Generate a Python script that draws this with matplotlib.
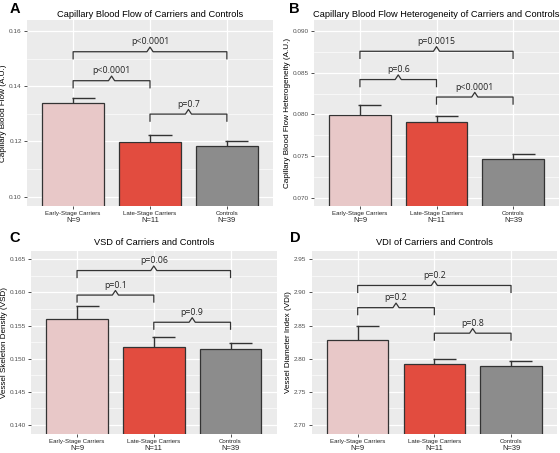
import matplotlib
matplotlib.use("Agg")
import matplotlib.pyplot as plt
import numpy as np

# groups shared by all four panels
groups = ["Early-Stage Carriers", "Late-Stage Carriers", "Controls"]
group_n = [9, 11, 39]
bar_colors = ["#E8C8C8", "#E24C3F", "#8C8C8C"]

# panel A: capillary blood flow
flow_mean = [0.1340, 0.1198, 0.1185]
flow_se = [0.0019, 0.0025, 0.0018]
flow_pairs = [(0, 2), (0, 1), (1, 2)]
flow_bracket_y = [0.1525, 0.1420, 0.1299]
flow_p = ["p<0.0001", "p<0.0001", "p=0.7"]
flow_ticks = [0.10, 0.12, 0.14, 0.16]

# panel B: capillary blood flow heterogeneity
het_mean = [0.0799, 0.0791, 0.0746]
het_se = [0.0013, 0.0007, 0.0007]
het_pairs = [(0, 2), (0, 1), (1, 2)]
het_bracket_y = [0.0876, 0.0842, 0.0821]
het_p = ["p=0.0015", "p=0.6", "p<0.0001"]
het_ticks = [0.070, 0.075, 0.080, 0.085, 0.090]

# panel C: vessel skeleton density
vsd_mean = [0.1560, 0.1518, 0.1515]
vsd_se = [0.0020, 0.0015, 0.0008]
vsd_pairs = [(0, 2), (0, 1), (1, 2)]
vsd_bracket_y = [0.1633, 0.1596, 0.1555]
vsd_p = ["p=0.06", "p=0.1", "p=0.9"]
vsd_ticks = [0.140, 0.145, 0.150, 0.155, 0.160, 0.165]

# panel D: vessel diameter index
vdi_mean = [2.828, 2.7915, 2.789]
vdi_se = [0.021, 0.0075, 0.007]
vdi_pairs = [(0, 2), (0, 1), (1, 2)]
vdi_bracket_y = [2.9105, 2.877, 2.8385]
vdi_p = ["p=0.2", "p=0.2", "p=0.8"]
vdi_ticks = [2.70, 2.75, 2.80, 2.85, 2.90, 2.95]

W, H = 560, 453
fig = plt.figure(figsize=(W / 100, H / 100), dpi=100)
plt.rcParams["font.family"] = ["Liberation Sans", "DejaVu Sans"]


def px_axes(x0, y0, x1, y1):
    return fig.add_axes([x0 / W, 1 - y1 / H, (x1 - x0) / W, (y1 - y0) / H])


def draw_panel(ax, means, ses, pairs, br_y, plabels, ticks, fmt, ylim,
               title, ylabel, title_pad):
    ax.set_facecolor("#EBEBEB")
    for s in ax.spines.values():
        s.set_visible(False)
    x = np.arange(len(groups))
    ax.set_xlim(-0.6, 2.6)
    ax.set_ylim(*ylim)
    # grid
    step = ticks[1] - ticks[0]
    minors = [t + step / 2 for t in [ticks[0] - step] + ticks]
    for m in minors:
        ax.axhline(m, color="white", lw=0.45, zorder=0)
    for t in ticks:
        ax.axhline(t, color="white", lw=0.9, zorder=0)
    for xi in x:
        ax.axvline(xi, color="white", lw=0.9, zorder=0)
    # error bars (upper only, cap offset to the right like the source)
    for xi, m, se in zip(x, means, ses):
        ax.plot([xi, xi], [m, m + se], color="#333333", lw=1.0, zorder=1)
        ax.plot([xi - 0.02, xi + 0.28], [m + se, m + se], color="#333333",
                lw=1.0, zorder=1, solid_capstyle="butt")
    ax.bar(x, means, width=0.8, color=bar_colors, edgecolor="#333333",
           linewidth=0.9, zorder=2)
    # brackets
    span = ylim[1] - ylim[0]
    drop = 0.038 * span
    tip = 0.025 * span
    for (i, j), yb, lab in zip(pairs, br_y, plabels):
        mid = (i + j) / 2
        ax.plot([i, i, mid - 0.04, mid, mid + 0.04, j, j],
                [yb - drop, yb, yb, yb + tip, yb, yb, yb - drop],
                color="#333333", lw=0.9, zorder=3)
        ax.annotate(lab, xy=(mid, yb + tip), xytext=(0, 0.5),
                    textcoords="offset points", ha="center", va="bottom",
                    fontsize=6.3, family=["Open Sans", "DejaVu Sans"],
                    color="#222222")
    ax.set_yticks(ticks)
    ax.set_yticklabels([fmt.format(t) for t in ticks])
    ax.set_xticks(x)
    ax.set_xticklabels(groups)
    ax.tick_params(axis="y", labelsize=4.6, colors="#333333",
                   labelcolor="#4D4D4D", length=2.2, width=0.6, pad=1.5)
    ax.tick_params(axis="x", labelsize=4.4, colors="#333333",
                   labelcolor="#222222", length=2.2, width=0.6, pad=1.5)
    for xi, n in zip(x, group_n):
        ax.annotate(f"N={n}", xy=(xi, 0), xycoords=("data", "axes fraction"),
                    xytext=(0, -10.8), textcoords="offset points",
                    ha="center", va="center", fontsize=5.4, color="#222222")
    ax.set_title(title, fontsize=6.7, pad=title_pad)
    ax.set_ylabel(ylabel, fontsize=5.9, labelpad=1.5)


def letter(x, y, s):
    fig.text(x / W, 1 - y / H, s, fontsize=10.5, fontweight="bold",
             ha="center", va="center")


axA = px_axes(27, 20, 273, 206)
draw_panel(axA, flow_mean, flow_se, flow_pairs, flow_bracket_y, flow_p,
           flow_ticks, "{:.2f}", (0.0966, 0.1640),
           "Capillary Blood Flow of Carriers and Controls",
           "Capillary Blood Flow (A.U.)", 2.0)
letter(15, 9, "A")

axB = px_axes(314, 20, 559, 206)
draw_panel(axB, het_mean, het_se, het_pairs, het_bracket_y, het_p,
           het_ticks, "{:.3f}", (0.0690, 0.09136),
           "Capillary Blood Flow Heterogeneity of Carriers and Controls",
           "Capillary Blood Flow Heterogeneity (A.U.)", 2.0)
letter(294, 9, "B")

axC = px_axes(31, 251, 276.6, 434)
draw_panel(axC, vsd_mean, vsd_se, vsd_pairs, vsd_bracket_y, vsd_p,
           vsd_ticks, "{:.3f}", (0.13864, 0.16625),
           "VSD of Carriers and Controls",
           "Vessel Skeleton Density (VSD)", 4.0)
letter(15, 238, "C")

axD = px_axes(311.7, 251, 557, 434)
draw_panel(axD, vdi_mean, vdi_se, vdi_pairs, vdi_bracket_y, vdi_p,
           vdi_ticks, "{:.2f}", (2.6864, 2.9625),
           "VDI of Carriers and Controls",
           "Vessel Diameter Index (VDI)", 4.0)
letter(295, 238, "D")

fig.savefig("out.png", dpi=100)
